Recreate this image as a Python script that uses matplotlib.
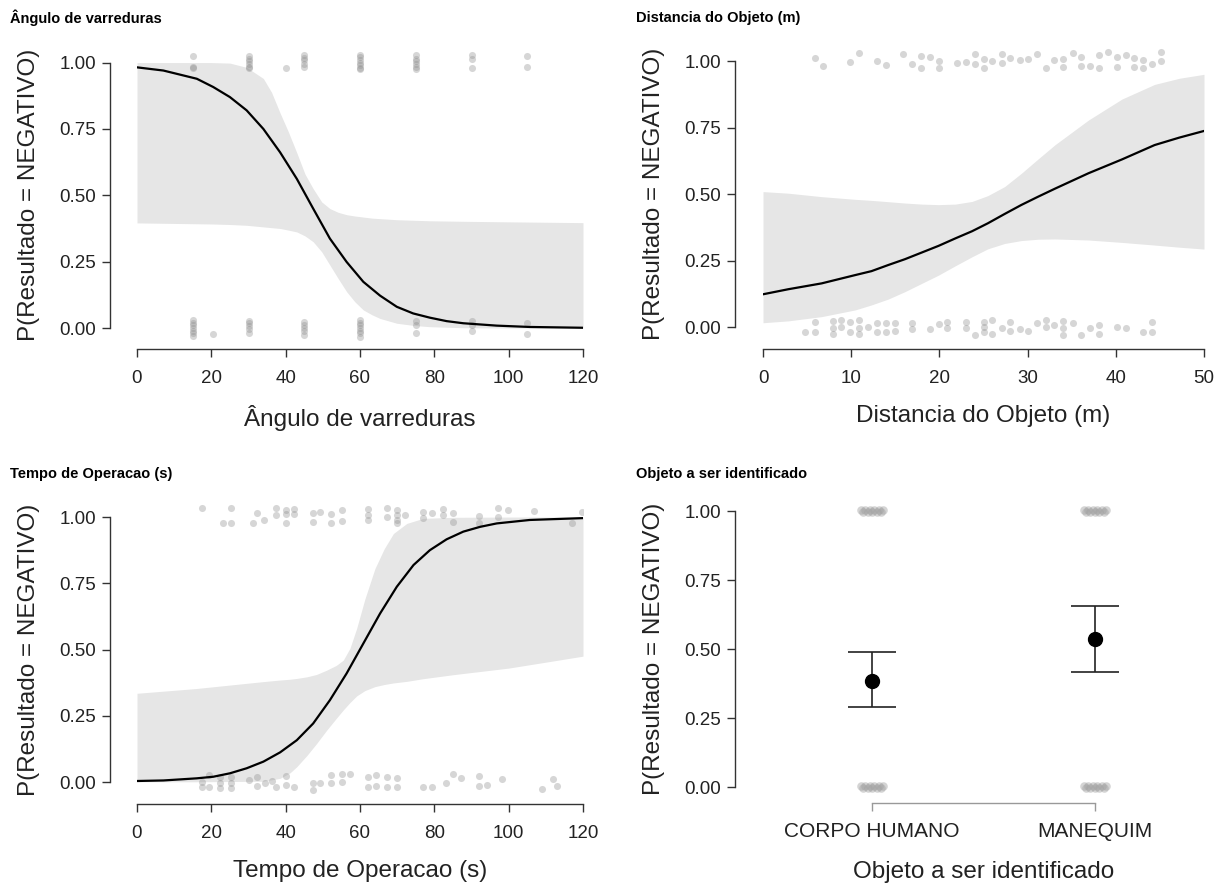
import matplotlib
matplotlib.use("Agg")
import matplotlib.pyplot as plt
import numpy as np

plt.rcParams['font.family'] = ['Liberation Sans', 'DejaVu Sans']

W, H = 1228, 888
YLABEL = 'P(Resultado = NEGATIVO)'
YTICKS = [0, 0.25, 0.5, 0.75, 1.0]
YTICKLABELS = ['0.00', '0.25', '0.50', '0.75', '1.00']

# --- Ângulo de varreduras -------------------------------------------------
ang_fit_x = [0, 7.1, 16.1, 20.5, 25, 29.5, 34, 38.5, 43, 47.4, 51.9, 56.4, 60.9, 65.4, 69.9, 74.3, 78.8, 83.3, 87.8, 96.8, 105.7, 120]
ang_fit = [0.982, 0.97, 0.939, 0.908, 0.87, 0.82, 0.75, 0.662, 0.562, 0.45, 0.337, 0.249, 0.174, 0.122, 0.08, 0.055, 0.039, 0.026, 0.018, 0.009, 0.004, 0.001]
ang_band_x = [0, 20, 25, 29.5, 34, 36.2, 38.5, 40.7, 43, 45.2, 47.4, 49.7, 51.9, 54.1, 56.4, 58.6, 60.9, 63.2, 65.4, 69.9, 74.3, 78.8, 88, 100, 120]
ang_upper = [1.0, 1.0, 0.998, 0.982, 0.94, 0.888, 0.81, 0.74, 0.66, 0.58, 0.525, 0.475, 0.45, 0.436, 0.427, 0.422, 0.418, 0.414, 0.412, 0.408, 0.406, 0.404, 0.402, 0.400, 0.397]
ang_lower = [0.396, 0.392, 0.39, 0.387, 0.381, 0.378, 0.375, 0.369, 0.362, 0.347, 0.325, 0.287, 0.237, 0.187, 0.137, 0.099, 0.068, 0.05, 0.036, 0.018, 0.01, 0.005, 0.001, 0.0, 0.0]
ang_pts_x = ([15] * 3 + [30] * 6 + [40.2] + [45] * 5 + [60] * 7 + [75] * 6 + [90] * 3 + [105] * 2
             + [15] * 7 + [20.5] + [30] * 5 + [45] * 5 + [60] * 7 + [75] * 3 + [90] * 3 + [105] * 2)
ang_pts_y = [1.026, 0.985, 0.978,
             1.025, 1.015, 1.005, 0.995, 0.985, 0.978,
             0.978,
             1.028, 1.018, 1.008, 0.995, 0.985,
             1.03, 1.02, 1.01, 1.0, 0.99, 0.98, 0.975,
             1.028, 1.015, 1.005, 0.995, 0.985, 0.975,
             1.03, 1.012, 0.98,
             1.025, 0.982,
             0.03, 0.02, 0.01, 0.0, -0.01, -0.02, -0.03,
             -0.021,
             0.028, 0.018, 0.008, -0.005, -0.02,
             0.022, 0.012, 0.0, -0.01, -0.025,
             0.03, 0.02, 0.01, 0.0, -0.01, -0.02, -0.032,
             0.025, 0.01, -0.02,
             0.025, 0.01, -0.01,
             0.02, -0.022]

# --- Distancia do Objeto (m) ----------------------------------------------
dist_x = [0, 2.87, 6.65, 10.43, 12.3, 14.2, 16.1, 18, 19.9, 21.8, 23.7, 25.5, 27.4, 29.3, 31.2, 33.1, 36.9, 40.7, 44.4, 47.2, 50]
dist_fit = [0.123, 0.142, 0.164, 0.195, 0.21, 0.233, 0.255, 0.28, 0.305, 0.333, 0.36, 0.39, 0.425, 0.459, 0.49, 0.52, 0.578, 0.63, 0.684, 0.712, 0.737]
dist_upper = [0.509, 0.503, 0.49, 0.48, 0.476, 0.471, 0.466, 0.462, 0.46, 0.462, 0.472, 0.494, 0.528, 0.578, 0.632, 0.685, 0.778, 0.857, 0.912, 0.935, 0.95]
dist_lower = [0.016, 0.023, 0.039, 0.064, 0.083, 0.105, 0.133, 0.164, 0.195, 0.23, 0.264, 0.294, 0.314, 0.325, 0.33, 0.331, 0.327, 0.318, 0.308, 0.3, 0.293]
dist_pts_x = [5.9, 6.8, 9.9, 10.9, 12.9, 13.9, 15.9, 16.9, 17.9, 17.9, 18.9, 19.95, 19.95, 22, 23, 24, 24,
              25, 25, 26, 27.1, 27.1, 28, 29.1, 30.1, 31.1, 32.05, 33, 34, 34, 35.1, 36.1, 36.1, 37.1,
              38.1, 38.1, 39.1, 40.1, 40.1, 41.1, 42.1, 42.1, 43.1, 43.1, 44.1, 45.1, 45.1,
              4.8, 5.9, 5.9, 7.9, 7.9, 7.9, 8.9, 8.9, 9.9, 9.9, 10.9, 10.9, 10.9, 11.9, 12.9, 12.9,
              13.95, 13.95, 15, 15, 16.9, 16.9, 18.9, 19.95, 20.9, 20.9, 23, 23, 24, 25, 25, 25, 26, 26,
              27.1, 28, 28, 29.1, 30.1, 31.1, 32.05, 32.05, 33, 34, 34, 34, 35.1, 36.1, 37.1, 38.1, 38.1,
              40.1, 41.1, 43.1, 44.1, 44.1]
dist_pts_y = [1.013, 0.982, 0.995, 1.029, 1.0, 0.985, 1.025, 0.987, 1.02, 0.975, 1.016, 1.0, 0.972, 0.991, 0.995, 1.025, 0.987,
              1.007, 0.972, 1.0, 1.025, 0.991, 1.013, 1.005, 1.009, 1.025, 0.972, 1.005, 1.009, 0.979, 1.029, 1.016, 0.982, 0.982,
              1.023, 0.975, 1.033, 1.016, 0.979, 1.023, 1.01, 0.979, 1.005, 0.972, 0.987, 1.033, 1.0,
              -0.02, 0.018, -0.018, 0.023, -0.003, -0.025, 0.025, 0.001, 0.018, -0.018, 0.026, -0.003, -0.025, 0.001, 0.014, -0.02,
              0.014, -0.02, 0.014, -0.015, 0.014, -0.008, -0.008, 0.01, 0.018, -0.005, 0.02, -0.003, -0.03, 0.02, 0.001, -0.018, 0.026, -0.025,
              -0.005, 0.018, -0.015, -0.008, -0.015, 0.014, 0.026, 0.001, 0.008, 0.023, -0.003, -0.03, 0.014, -0.03, -0.003, 0.008, -0.028,
              0.001, -0.003, -0.018, 0.02, -0.02]

# --- Tempo de Operacao (s) ------------------------------------------------
tempo_fit_x = [0, 7.1, 16.05, 20.5, 25, 29.5, 34, 38.5, 43, 47.4, 51.9, 56.4, 60.9, 65.4, 69.9, 74.4, 78.8, 83.3, 87.8, 92.3, 96.8, 105.7, 120]
tempo_fit = [0.004, 0.006, 0.014, 0.02, 0.033, 0.052, 0.077, 0.112, 0.158, 0.221, 0.309, 0.41, 0.523, 0.636, 0.737, 0.819, 0.875, 0.916, 0.945, 0.963, 0.976, 0.989, 0.996]
tempo_band_x = [0, 16, 34, 38.5, 41.2, 43, 45.7, 48.3, 51, 53.6, 55.5, 57.3, 59.1, 61.3, 64, 66.5, 69, 72.6, 77, 85, 100, 120]
tempo_upper = [0.335, 0.353, 0.379, 0.385, 0.388, 0.391, 0.397, 0.406, 0.422, 0.44, 0.46, 0.505, 0.58, 0.69, 0.805, 0.88, 0.938, 0.976, 0.995, 0.999, 1.0, 1.0]
tempo_lower = [0.001, 0.001, 0.003, 0.014, 0.035, 0.058, 0.1, 0.145, 0.195, 0.24, 0.272, 0.3, 0.325, 0.345, 0.36, 0.368, 0.374, 0.38, 0.39, 0.405, 0.43, 0.475]
tempo_pts_x = [17.4, 23.2, 25.2, 25.2, 31.3, 32.2, 34.3, 37.3, 37.3, 40.1, 40.1, 40.1, 42.2, 42.2, 47.3, 47.3,
               49.2, 52.2, 52.2, 55.2, 55.2, 62.1, 62.1, 62.1, 67.2, 67.2, 69.9, 69.9, 69.9, 69.9, 72.1, 77, 77,
               79.3, 82.2, 82.2, 84.9, 84.9, 92, 92, 97, 97, 99.9, 106.9, 117, 119.8,
               17.4, 17.4, 19.5, 19.5, 22.2, 22.2, 22.2, 25.2, 25.2, 25.2, 30.2, 32.2, 32.2, 34.4, 36.2, 37.3,
               40.1, 40.1, 42.2, 47.3, 47.3, 49.2, 52.2, 52.2, 55.2, 55.2, 57.3, 62.1, 62.1, 64.3, 64.3, 67.2,
               67.2, 69.9, 69.9, 77, 79.3, 83.1, 85.1, 87.2, 92, 92, 94.1, 98.1, 109.1, 112, 112.9]
tempo_pts_y = [1.033, 0.979, 1.033, 0.979, 0.976, 1.016, 0.989, 1.033, 1.008, 1.026, 1.011, 0.979, 1.029, 1.011, 1.014, 0.982,
               1.02, 1.011, 0.976, 1.026, 0.986, 1.029, 1.008, 0.989, 1.036, 1.0, 1.026, 1.008, 0.989, 0.976, 1.008, 1.02, 0.995,
               1.016, 1.029, 1.008, 1.014, 0.982, 1.004, 0.979, 1.033, 1.0, 1.026, 1.024, 0.976, 1.02,
               0.001, -0.02, 0.026, -0.02, 0.02, -0.003, -0.024, 0.02, -0.003, -0.024, 0.008, 0.02, -0.015, -0.003, 0.005, -0.018,
               0.023, -0.011, -0.02, -0.003, -0.03, -0.005, 0.026, -0.003, 0.03, 0.001, 0.03, 0.018, -0.018, 0.026, -0.015, 0.018,
               -0.018, 0.014, -0.018, -0.018, -0.018, -0.005, 0.03, 0.014, 0.023, -0.015, -0.011, 0.01, -0.028, 0.01, -0.015]

# --- Objeto a ser identificado --------------------------------------------
obj_labels = ['CORPO HUMANO', 'MANEQUIM']
obj_mean = [0.385, 0.535]
obj_lower = [0.29, 0.415]
obj_upper = [0.49, 0.655]
obj_jit_x = [-0.05, -0.04, -0.03, -0.02, -0.01, 0.0, 0.01, 0.02, 0.03, 0.04, 0.05]
obj_jit_y = [0.004, -0.003, 0.002, -0.004, 0.003, -0.002, 0.004, -0.003, 0.002, -0.004, 0.003]
obj_pts_x = ([0 + d for d in obj_jit_x] * 2 + [1 + d for d in obj_jit_x] * 2)
obj_pts_y = ([1 + d for d in obj_jit_y] + obj_jit_y) * 2


def add_axes(fig, left, top, right, bottom):
    return fig.add_axes([left / W, 1 - bottom / H, (right - left) / W, (bottom - top) / H])


def style_axes(ax, xbounds, left_off, bottom_off):
    for s in ['top', 'right']:
        ax.spines[s].set_visible(False)
    ax.spines['left'].set_position(('outward', left_off * 0.72))
    ax.spines['bottom'].set_position(('outward', bottom_off * 0.72))
    ax.spines['left'].set_bounds(0, 1)
    ax.spines['bottom'].set_bounds(*xbounds)
    for s in ['left', 'bottom']:
        ax.spines[s].set_color('#333333')
        ax.spines[s].set_linewidth(1.0)
    ax.set_yticks(YTICKS)
    ax.set_yticklabels(YTICKLABELS)
    ax.tick_params(axis='both', length=6, width=1.0, color='#333333', labelsize=13.5, labelcolor='#222222')
    ax.tick_params(axis='x', pad=9)
    ax.tick_params(axis='y', pad=4)
    ax.set_ylabel(YLABEL, fontsize=17.5, color='#222222', labelpad=14)
    ax.patch.set_alpha(0)


def continuous_panel(ax, fit_x, fit, band_x, lo, hi, px, py, xmax, xticks, xlabel):
    ax.fill_between(band_x, lo, hi, color='#e6e6e6', lw=0, zorder=1)
    ax.plot(fit_x, fit, color='black', lw=1.6, zorder=3, solid_joinstyle='round')
    ax.scatter(px, py, s=26, color='#8c8c8c', alpha=0.35, lw=0, zorder=2)
    ax.set_xlim(0, xmax)
    ax.set_ylim(-0.05, 1.05)
    ax.set_xticks(xticks)
    ax.set_xlabel(xlabel, fontsize=17.5, color='#222222', labelpad=13)


fig = plt.figure(figsize=(W / 100, H / 100), dpi=100)

ax1 = add_axes(fig, 137, 49.3, 583, 341.3)
continuous_panel(ax1, ang_fit_x, ang_fit, ang_band_x, ang_lower, ang_upper, ang_pts_x, ang_pts_y,
                 120, [0, 20, 40, 60, 80, 100, 120], 'Ângulo de varreduras')
style_axes(ax1, (0, 120), 27, 8)

ax2 = add_axes(fig, 763, 47.7, 1204, 340.3)
continuous_panel(ax2, dist_x, dist_fit, dist_x, dist_lower, dist_upper, dist_pts_x, dist_pts_y,
                 50, [0, 10, 20, 30, 40, 50], 'Distancia do Objeto (m)')
style_axes(ax2, (0, 50), 28, 9)

ax3 = add_axes(fig, 137, 503.8, 583, 795.3)
continuous_panel(ax3, tempo_fit_x, tempo_fit, tempo_band_x, tempo_lower, tempo_upper, tempo_pts_x, tempo_pts_y,
                 120, [0, 20, 40, 60, 80, 100, 120], 'Tempo de Operacao (s)')
style_axes(ax3, (0, 120), 27, 9)

ax4 = add_axes(fig, 763, 497.2, 1204, 800.8)
ax4.scatter(obj_pts_x, obj_pts_y, s=38, color='#a0a0a0', alpha=0.45, lw=0, zorder=2)
xpos = np.arange(len(obj_labels))
ax4.errorbar(xpos, obj_mean,
             yerr=[np.array(obj_mean) - np.array(obj_lower), np.array(obj_upper) - np.array(obj_mean)],
             fmt='o', color='black', ecolor='#222222', elinewidth=1.2, capsize=17, capthick=1.2,
             markersize=10, zorder=3)
ax4.set_xlim(-0.49, 1.49)
ax4.set_ylim(-0.05, 1.05)
ax4.set_xticks(xpos)
ax4.set_xticklabels(obj_labels)
style_axes(ax4, (0, 1), 28, 2)
ax4.set_xlabel('Objeto a ser identificado', fontsize=17.5, color='#222222', labelpad=14)
ax4.spines['bottom'].set_color('#999999')
ax4.tick_params(axis='x', color='#999999', labelsize=15, pad=8)

fig.text(10 / W, 1 - 18 / H, 'Ângulo de varreduras', fontsize=10.5, fontweight='bold', va='center', ha='left')
fig.text(636 / W, 1 - 18 / H, 'Distancia do Objeto (m)', fontsize=10.5, fontweight='bold', va='center', ha='left')
fig.text(10 / W, 1 - 474 / H, 'Tempo de Operacao (s)', fontsize=10.5, fontweight='bold', va='center', ha='left')
fig.text(636 / W, 1 - 474 / H, 'Objeto a ser identificado', fontsize=10.5, fontweight='bold', va='center', ha='left')

fig.savefig('out.png', dpi=100)
